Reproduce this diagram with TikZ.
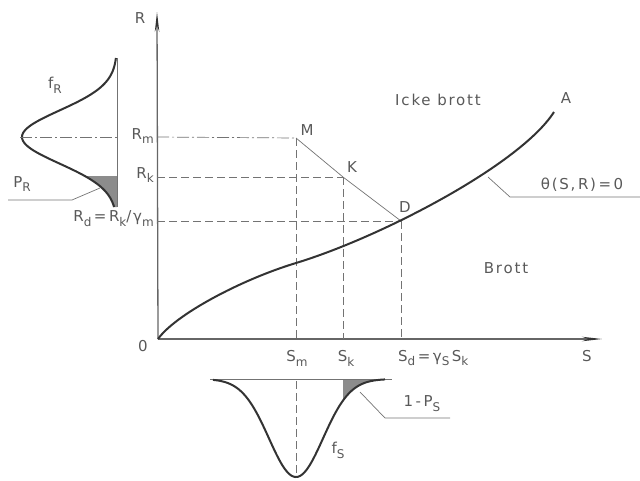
\documentclass[tikz,border=0pt]{standalone}
\usepackage{fontspec}
\setmainfont{DejaVu Sans}[LetterSpace=12]
\usetikzlibrary{arrows.meta}
\newcommand{\dn}[1]{\raisebox{-.6ex}{\fontsize{12}{12}\selectfont #1}}
\tikzset{
  axisline/.style={draw=black!60, line width=1.3pt},
  bigcurve/.style={draw=black!80, line width=2pt},
  thinline/.style={draw=black!55, line width=0.7pt},
  dsh/.style={thinline, dash pattern=on 8pt off 4pt},
  dshdot/.style={thinline, dash pattern=on 12pt off 3pt on 2pt off 3pt},
  lbl/.style={text=black!65, font=\fontsize{15}{15}\selectfont, inner sep=0pt},
  shade/.style={fill=black!45},
  axtip/.style={-{Stealth[length=20pt,width=4.5pt,color=black!80,fill=black!80]}},
}
\begin{document}
\begin{tikzpicture}[x=1pt,y=-1pt]
\useasboundingbox (0,0) rectangle (640,480);
% key points
\coordinate (O) at (158,339);
\coordinate (Rtop) at (157,12);
\coordinate (Send) at (602,339);
\coordinate (M) at (296,138);
\coordinate (K) at (343,177);
\coordinate (D) at (401,221);
\coordinate (P) at (296,263);
\coordinate (A) at (554,112);
\coordinate (RmL) at (157,137);
\coordinate (RkL) at (157,177);
\coordinate (RdL) at (157,221);
\coordinate (SmB) at (296,339);
\coordinate (SkB) at (343,339);
\coordinate (SdB) at (401,339);
% axes
\draw[axisline,axtip] (O) -- (Rtop);
\draw[axisline,axtip] (O) -- (Send);
% dashed construction lines
\draw[dshdot] (RmL) -- (M);
\draw[dsh] (RkL) -- (K);
\draw[dsh] (RdL) -- (D);
\draw[dsh] (M) -- (SmB);
\draw[dsh] (K) -- (SkB);
\draw[dsh] (D) -- (SdB);
\draw[thinline] (M) -- (K) -- (D);
% limit state curve
\draw[bigcurve] (O) .. controls (175,315) and (240,280) .. (P)
                    .. controls (380,237.5) and (520,165) .. (A);
% theta leader
\coordinate (Th1) at (488,177);
\coordinate (Th2) at (510,197);
\coordinate (Th3) at (640,197);
\draw[thinline] (Th1) -- (Th2) -- (Th3);
% f_R distribution
\coordinate (FRt) at (117,58);
\coordinate (FRb) at (117,207);
\fill[shade] plot[domain=176:207,samples=30,variable=\t] ({117-95*exp(-0.5*((\t-137)/26.5)*((\t-137)/26.5))},\t) -- (117,207) -- (117,176) -- cycle;
\draw[thinline] (FRt) -- (FRb);
\draw[bigcurve] plot[domain=58:207,samples=80,variable=\t] ({117-95*exp(-0.5*((\t-137)/26.5)*((\t-137)/26.5))},\t);
\coordinate (RmP) at (20,137);
\coordinate (RmQ) at (117,137);
\draw[dshdot] (RmP) -- (RmQ);
\coordinate (PR1) at (100,188);
\coordinate (PR2) at (72,200);
\coordinate (PR3) at (8,200);
\draw[thinline] (PR1) -- (PR2) -- (PR3);
% f_S distribution
\coordinate (FSl) at (210,379);
\coordinate (FSr) at (392,379);
\fill[shade] plot[domain=343:385,samples=30,variable=\t] (\t,{379+98*exp(-0.5*((\t-296)/27)*((\t-296)/27))}) -- (385,379) -- (343,379) -- cycle;
\draw[thinline] (FSl) -- (FSr);
\draw[bigcurve] plot[domain=213:385,samples=80,variable=\t] (\t,{379+98*exp(-0.5*((\t-296)/27)*((\t-296)/27))});
\coordinate (SmT) at (296,381);
\coordinate (SmU) at (296,477);
\draw[dsh] (SmT) -- (SmU);
\coordinate (PS1) at (360,392);
\coordinate (PS2) at (385,418);
\coordinate (PS3) at (450,418);
\draw[thinline] (PS1) -- (PS2) -- (PS3);
% labels
\node[lbl] (lR) at (140,18) {R};
\node[lbl] (l0) at (143,346) {0};
\node[lbl] (lS) at (587,356) {S};
\node[lbl] (licke) at (438,100) {Icke brott};
\node[lbl] (lbrott) at (506,268) {Brott};
\node[lbl] (lA) at (566,98) {A};
\node[lbl] (lM) at (307,130) {M};
\node[lbl] (lK) at (352,167) {K};
\node[lbl] (lD) at (405,207) {D};
\node[lbl] (lth) at (582,185) {θ(S,\,R)\,=\,0};
\node[lbl,anchor=east] (lRm) at (154,136) {R\dn{m}};
\node[lbl,anchor=east] (lRk) at (154,175) {R\dn{k}};
\node[lbl,anchor=east] (lRd) at (154,219) {R\dn{d}\,=\,R\dn{k}/γ\dn{m}};
\node[lbl] (lPR) at (22,184) {P\dn{R}};
\node[lbl] (lfR) at (55,85) {f\dn{R}};
\node[lbl] (lSm) at (297,358) {S\dn{m}};
\node[lbl] (lSk) at (346,358) {S\dn{k}};
\node[lbl,anchor=west] (lSd) at (398,358) {S\dn{d}\,=\,γ\dn{S}\,S\dn{k}};
\node[lbl] (lPS) at (422,404) {1\,-\,P\dn{S}};
\node[lbl] (lfS) at (338,450) {f\dn{S}};
\end{tikzpicture}
\end{document}
